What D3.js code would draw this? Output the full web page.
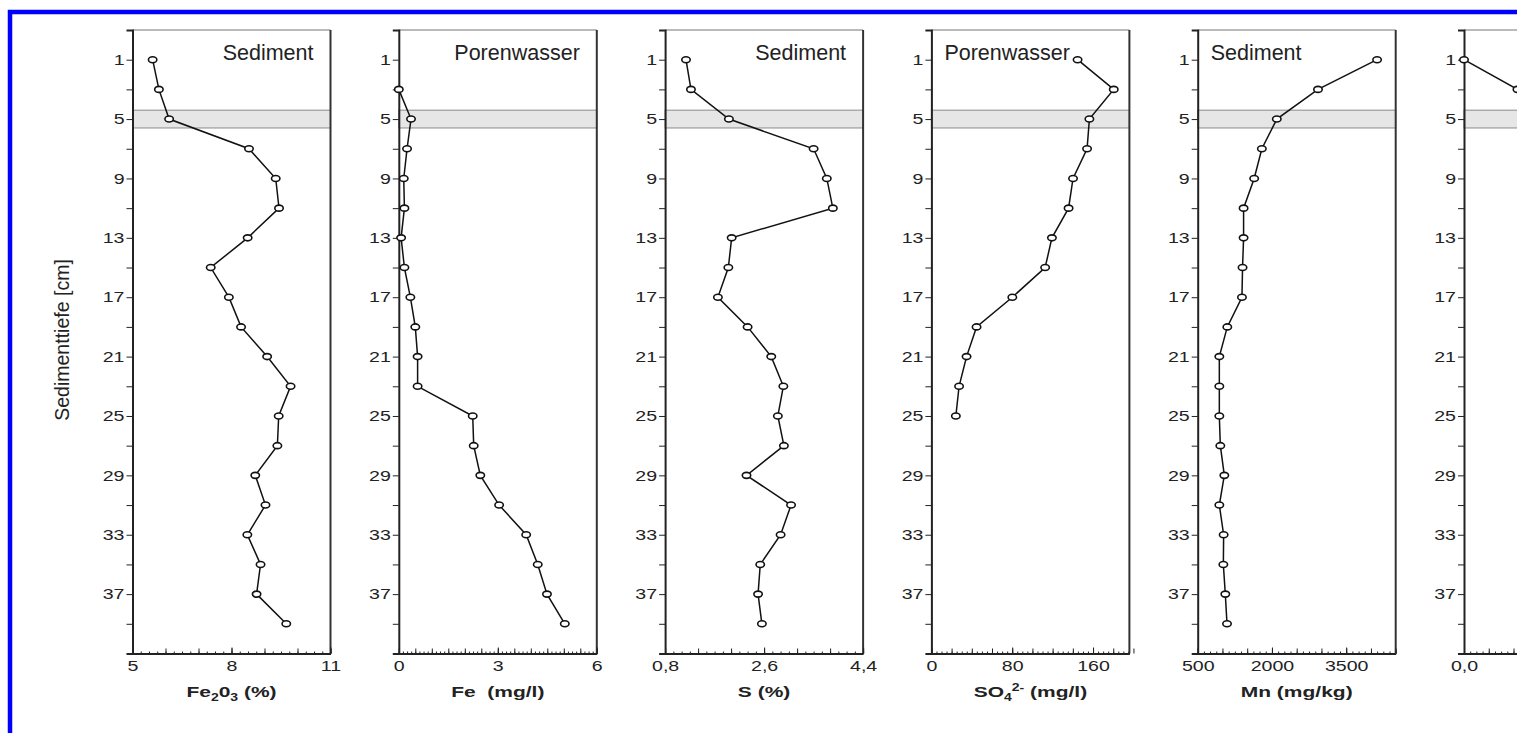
<!DOCTYPE html>
<html>
<head>
  <meta charset="utf-8" />
  <title>Sediment / Porenwasser profiles</title>
  <script src="https://d3js.org/d3.v7.min.js"></script>
  <style>
    body {
      margin: 0;
      background: #fff;
      overflow: hidden;
    }
    svg {
      display: block;
      font-family: "Liberation Sans", Arial, sans-serif;
    }
    .axis path, .axis line {
      stroke: #222;
    }
    .axis text {
      fill: #222;
      font-size: 14.5px;
    }
  </style>
</head>
<body>
  <svg id="chart" width="1517" height="733"></svg>

  <script>
    // depths (cm) of the samples
    const depths = [1, 3, 5, 7, 9, 11, 13, 15, 17, 19, 21, 23, 25, 27, 29, 31, 33, 35, 37, 39];
    const feDepths = [3, 5, 7, 9, 11, 13, 15, 17, 19, 21, 23, 25, 27, 29, 31, 33, 35, 37, 39];
    const so4Depths = [1, 3, 5, 7, 9, 11, 13, 15, 17, 19, 21, 23, 25];
    const mnPwDepths = [1, 3];

    const fe2o3 = [5.61, 5.80, 6.11, 8.53, 9.34, 9.44, 8.49, 7.37, 7.92, 8.29, 9.08, 9.79, 9.43, 9.39, 8.72, 9.03, 8.48, 8.88, 8.76, 9.66];
    const fePw = [0.00, 0.37, 0.25, 0.15, 0.17, 0.07, 0.17, 0.35, 0.50, 0.57, 0.57, 2.24, 2.27, 2.47, 3.04, 3.86, 4.21, 4.49, 5.03];
    const sulfur = [1.18, 1.27, 1.96, 3.50, 3.74, 3.85, 2.01, 1.95, 1.76, 2.30, 2.73, 2.95, 2.85, 2.96, 2.28, 3.09, 2.90, 2.53, 2.49, 2.56];
    const so4Pw = [144.7, 180.5, 156.4, 154.1, 140.2, 135.8, 119.3, 112.6, 80.1, 44.7, 34.8, 27.4, 24.2];
    const mnSed = [4124, 2930, 2098, 1796, 1641, 1427, 1427, 1406, 1394, 1098, 937, 937, 937, 957, 1038, 937, 1024, 1018, 1058, 1092];
    const mnPw = [0.0, 1.08];

    // shaded depth band
    const bandDepth = [4.4, 5.6];

    const depthDomain = [-1, 41];
    const depthLabels = [1, 5, 9, 13, 17, 21, 25, 29, 33, 37];
    const depthTicks = d3.range(1, 40, 2);

    const titles = ["Sediment", "Porenwasser", "Sediment", "Porenwasser", "Sediment", "Porenwasser"];
    const xDomains = [[5, 11], [0, 6], [0.8, 4.4], [0, 196], [500, 4500], [0, 4]];
    const xLabels = [[5, 8, 11], [0, 3, 6], [0.8, 2.6, 4.4], [0, 80, 160], [500, 2000, 3500], [0, 1.5, 3]];
    const xSteps = [1, 0.5, 0.6, 20, 500, 0.5];

    const panels = [
      { depth: depths, values: fe2o3, fmt: d3.format("d"), titleAlign: "end",
        label: [["Fe", 0], ["2", 1], ["0", 0], ["3", 1], [" (%)", 0]] },
      { depth: feDepths, values: fePw, fmt: d3.format("d"), titleAlign: "end",
        label: [["Fe  (mg/l)", 0]] },
      { depth: depths, values: sulfur, fmt: d => d3.format(".1f")(d).replace(".", ","), titleAlign: "end",
        label: [["S (%)", 0]] },
      { depth: so4Depths, values: so4Pw, fmt: d3.format("d"), titleAlign: "start",
        label: [["SO", 0], ["4", 1], ["2-", 2], [" (mg/l)", 0]] },
      { depth: depths, values: mnSed, fmt: d3.format("d"), titleAlign: "start",
        label: [["Mn (mg/kg)", 0]] },
      { depth: mnPwDepths, values: mnPw, fmt: d => d3.format(".1f")(d).replace(".", ","), titleAlign: "end",
        label: [["Mn (mg/l)", 0]] }
    ];

    const svg = d3.select("#chart");
    const plotTop = 30, plotBottom = 653.5;
    const panelLeft = 132.5, panelGap = 266.3, panelWidth = 198;
    const sx = 1.35; // the figure's tick text is stretched sideways

    // blue frame around the figure
    svg.append("path")
      .attr("d", "M10,740 V12 H1530")
      .attr("fill", "none")
      .attr("stroke", "#0000ff")
      .attr("stroke-width", 4.5);

    const y = d3.scaleLinear().domain(depthDomain).range([plotTop, plotBottom]);

    svg.append("text")
      .attr("transform", `translate(69,340) rotate(-90) scale(0.93,1)`)
      .attr("text-anchor", "middle")
      .style("font-size", "21px")
      .attr("fill", "#222")
      .text("Sedimenttiefe [cm]");

    panels.forEach((p, i) => {
      const g = svg.append("g")
        .attr("transform", `translate(${panelLeft + i * panelGap},0)`);
      const x = d3.scaleLinear().domain(xDomains[i]).range([0, panelWidth]);

      // shaded band
      g.append("rect")
        .attr("x", 0)
        .attr("width", panelWidth)
        .attr("y", y(bandDepth[0]))
        .attr("height", y(bandDepth[1]) - y(bandDepth[0]))
        .attr("fill", "#e6e6e6")
        .attr("stroke", "#8a8a8a")
        .attr("stroke-width", 1);

      // frame top and right
      g.append("line")
        .attr("x1", 0).attr("x2", panelWidth)
        .attr("y1", y(depthDomain[0])).attr("y2", y(depthDomain[0]))
        .attr("stroke", "#777").attr("stroke-width", 1.2);
      g.append("line")
        .attr("x1", panelWidth).attr("x2", panelWidth)
        .attr("y1", y(depthDomain[0])).attr("y2", y(depthDomain[1]))
        .attr("stroke", "#333").attr("stroke-width", 2);

      // bottom axis: minor, medium, labelled ticks (pointing inward)
      const [x0, x1] = xDomains[i];
      const step = xSteps[i];
      const medium = d3.range(x0, x1 + step / 2, step);
      const minor = d3.range(x0, x1 + step / 10, step / 4);

      g.append("g").attr("class", "axis")
        .attr("transform", `translate(0,${plotBottom})`)
        .call(d3.axisBottom(x).tickValues(minor).tickSize(-2).tickSizeOuter(0).tickFormat(""))
        .call(s => s.select(".domain").remove());
      g.append("g").attr("class", "axis")
        .attr("transform", `translate(0,${plotBottom})`)
        .call(d3.axisBottom(x).tickValues(medium).tickSize(-5).tickSizeOuter(0).tickFormat(""))
        .call(s => s.select(".domain").remove());

      const xAxis = g.append("g").attr("class", "axis")
        .attr("transform", `translate(0,${plotBottom})`)
        .call(d3.axisBottom(x).tickValues(xLabels[i]).tickSize(-6).tickSizeOuter(0)
          .tickPadding(7).tickFormat(p.fmt));
      xAxis.select(".domain").attr("stroke-width", 2);
      xAxis.selectAll("text").attr("transform", `scale(${sx},1)`);

      // depth axis
      const yAxis = g.append("g").attr("class", "axis")
        .call(d3.axisLeft(y).tickValues(depthTicks).tickSizeOuter(0)
          .tickSize(6).tickPadding(2)
          .tickFormat(d => depthLabels.includes(d) ? d : ""));
      yAxis.select(".domain").attr("stroke-width", 2);
      yAxis.selectAll("text")
        .attr("x", -8 / sx)
        .attr("transform", `scale(${sx},1)`);

      // profile line and markers
      const pts = p.depth.map((d, k) => ({ d, v: p.values[k] }));
      g.append("path")
        .datum(pts)
        .attr("fill", "none")
        .attr("stroke", "#111")
        .attr("stroke-width", 1.5)
        .attr("d", d3.line().x(d => x(d.v)).y(d => y(d.d)));
      g.selectAll("ellipse")
        .data(pts)
        .join("ellipse")
        .attr("cx", d => x(d.v))
        .attr("cy", d => y(d.d))
        .attr("rx", 4.2)
        .attr("ry", 3)
        .attr("fill", "#fff")
        .attr("stroke", "#111")
        .attr("stroke-width", 1.6);

      // panel title
      const startX = p.titleAlign === "end" ? panelWidth - 17 : 13;
      g.append("text")
        .attr("x", startX)
        .attr("y", 60)
        .attr("text-anchor", p.titleAlign)
        .style("font-size", "21.5px")
        .attr("fill", "#222")
        .text(titles[i]);

      // axis title, bold, with sub/superscripts
      const t = g.append("text")
        .attr("transform", `translate(${panelWidth / 2},697) scale(1.4,1)`)
        .attr("text-anchor", "middle")
        .style("font-size", "15px")
        .style("font-weight", "bold")
        .style("white-space", "pre")
        .attr("fill", "#222");
      let shift = 0;
      p.label.forEach(([s, kind]) => {
        const target = kind === 1 ? 4 : kind === 2 ? -6 : 0;
        t.append("tspan")
          .attr("dy", target - shift)
          .style("font-size", kind ? "10px" : "15px")
          .text(s);
        shift = target;
      });
    });
  </script>
</body>
</html>
